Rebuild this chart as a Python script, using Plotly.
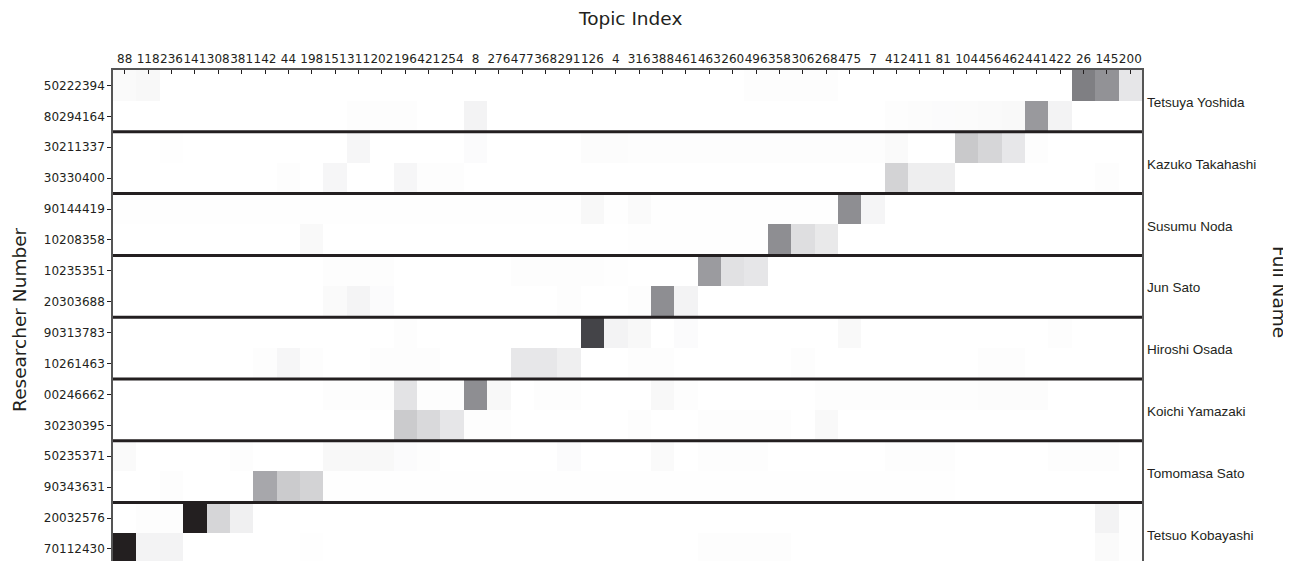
import plotly.graph_objects as go

topics = ["88", "118", "236", "141", "308", "381", "142", "44", "198", "151", "311",
          "202", "196", "421", "254", "8", "276", "477", "368", "291", "126", "4",
          "316", "388", "461", "463", "260", "496", "358", "306", "268", "475", "7",
          "412", "411", "81", "104", "456", "462", "441", "422", "26", "145", "200"]

researchers = ["50222394", "80294164", "30211337", "30330400", "90144419", "10208358",
               "10235351", "20303688", "90313783", "10261463", "00246662", "30230395",
               "50235371", "90343631", "20032576", "70112430"]

full_names = ["Tetsuya Yoshida", "Kazuko Takahashi", "Susumu Noda", "Jun Sato",
              "Hiroshi Osada", "Koichi Yamazaki", "Tomomasa Sato", "Tetsuo Kobayashi"]

#            88   118  236  141  308  381  142  44   198  151  311  202  196  421  254  8    276  477  368  291  126  4    316  388  461  463  260  496  358  306  268  475  7    412  411  81   104  456  462  441  422  26   145  200
r_50222394 = [.02, .03, 0,   0,   0,   0,   0,   0,   0,   0,   0,   0,   0,   0,   0,   0,   0,   0,   0,   0,   0,   0,   0,   0,   0,   0,   0,   .01, .01, .008,.008,0,   0,   0,   0,   0,   0,   0,   0,   0,   0,   .56, .48, .10]
r_80294164 = [0,   0,   0,   0,   0,   0,   0,   0,   0,   0,   .01, .01, .01, 0,   0,   .05, 0,   0,   0,   0,   0,   0,   0,   0,   0,   0,   0,   0,   0,   0,   0,   0,   0,   .01, .012,.015,.018,.02, .025,.45, .05, 0,   0,   0]
r_30211337 = [0,   0,   .005,0,   0,   0,   0,   0,   0,   0,   .035,0,   0,   0,   0,   .015,0,   0,   0,   0,   .012,.012,.008,.008,.008,.008,.008,.008,.008,.008,.008,.008,.008,.02, 0,   0,   .21, .16, .095,.01, 0,   0,   0,   0]
r_30330400 = [0,   0,   0,   0,   0,   0,   0,   .01, 0,   .035,0,   0,   .035,.01, .01, 0,   0,   0,   0,   0,   0,   0,   0,   0,   0,   0,   0,   0,   0,   0,   0,   0,   0,   .17, .07, .07, 0,   0,   0,   0,   0,   0,   .01, 0]
r_90144419 = [.005,.005,.005,.005,.005,.005,.005,.005,.005,.005,.005,.005,.005,.005,.005,.005,.005,.005,.005,.005,.03, .005,.02, .005,.005,.005,.005,.005,.005,.005,.005,.50, .04, 0,   0,   0,   0,   0,   0,   0,   0,   0,   0,   0]
r_10208358 = [0,   0,   0,   0,   0,   0,   0,   0,   .025,0,   0,   0,   0,   0,   0,   0,   0,   0,   0,   0,   0,   0,   .005,.005,.005,.005,.005,.005,.50, .13, .09, 0,   0,   0,   0,   0,   0,   0,   0,   0,   0,   0,   0,   0]
r_10235351 = [0,   0,   0,   0,   0,   0,   0,   0,   0,   .01, .01, .01, 0,   0,   0,   0,   0,   .008,.008,.008,.008,.005,0,   0,   0,   .44, .12, .10, 0,   0,   0,   0,   0,   0,   0,   0,   0,   0,   0,   0,   0,   0,   0,   0]
r_20303688 = [0,   0,   0,   0,   0,   0,   0,   0,   0,   .02, .045,.015,0,   0,   0,   0,   0,   0,   0,   .01, 0,   0,   .01, .50, .05, 0,   0,   0,   0,   0,   0,   0,   0,   0,   0,   0,   0,   0,   0,   0,   0,   0,   0,   0]
r_90313783 = [0,   0,   0,   0,   0,   0,   0,   0,   0,   0,   0,   0,   .01, 0,   0,   0,   0,   0,   0,   0,   .80, .05, .03, 0,   .015,0,   0,   0,   0,   0,   0,   .025,0,   0,   0,   0,   0,   0,   0,   0,   .01, 0,   0,   0]
r_10261463 = [0,   0,   0,   0,   0,   0,   .01, .035,.01, 0,   0,   .01, .01, .01, 0,   0,   0,   .095,.095,.065,0,   0,   .01, .01, 0,   0,   0,   0,   0,   .008,0,   0,   0,   0,   0,   0,   0,   .01, .01, 0,   0,   0,   0,   0]
r_00246662 = [0,   0,   0,   0,   0,   0,   0,   0,   0,   .01, .01, .01, .11, .01, .01, .50, .03, 0,   .01, .01, 0,   0,   0,   .03, .01, 0,   0,   0,   0,   0,   .008,.008,.008,.008,.008,.008,.008,.012,.012,.012,0,   0,   0,   0]
r_30230395 = [0,   0,   0,   0,   0,   0,   0,   0,   0,   0,   0,   0,   .20, .15, .10, .01, .01, 0,   0,   0,   0,   0,   .01, 0,   0,   .01, .01, .01, .01, 0,   .025,0,   0,   0,   0,   0,   0,   0,   0,   0,   0,   0,   0,   0]
r_50235371 = [.02, 0,   0,   0,   0,   .01, 0,   0,   0,   .03, .03, .03, .015,.01, 0,   0,   0,   0,   0,   .015,0,   0,   0,   .02, 0,   .01, .01, .01, 0,   0,   0,   0,   0,   .01, .01, .01, 0,   0,   0,   0,   .01, .01, .01, 0]
r_90343631 = [0,   0,   .01, 0,   0,   0,   .38, .20, .17, .005,.005,.005,.005,.005,.005,.005,.005,.005,.005,.005,.005,.005,.005,.005,.005,.005,.005,.005,.005,.005,.005,.005,.005,.005,.005,.005,0,   0,   0,   0,   0,   0,   0,   0]
r_20032576 = [0,   .01, .01, 1.0, .16, .06, 0,   0,   0,   0,   0,   0,   0,   0,   0,   0,   0,   0,   0,   0,   0,   0,   0,   0,   0,   0,   0,   0,   0,   0,   0,   0,   0,   0,   0,   0,   0,   0,   0,   0,   0,   0,   .05, .005]
r_70112430 = [1.0, .05, .05, 0,   0,   0,   0,   0,   .005,0,   0,   0,   0,   0,   0,   0,   0,   0,   0,   0,   0,   0,   0,   0,   0,   .01, .01, .01, .01, 0,   0,   0,   0,   0,   0,   0,   0,   0,   0,   0,   0,   0,   .02, .005]

z = [r_50222394, r_80294164, r_30211337, r_30330400, r_90144419, r_10208358,
     r_10235351, r_20303688, r_90313783, r_10261463, r_00246662, r_30230395,
     r_50235371, r_90343631, r_20032576, r_70112430]

colorscale = [[0.0, "#ffffff"], [0.1, "#e6e6e8"], [0.2, "#cbcbcd"], [0.4, "#a3a3a7"],
              [0.5, "#8e8e92"], [0.8, "#444448"], [1.0, "#231f20"]]

xs = list(range(len(topics)))
ys = list(range(len(researchers)))

fig = go.Figure(go.Heatmap(z=z, x=xs, y=ys, colorscale=colorscale, zmin=0, zmax=1,
                           showscale=False, hoverinfo="skip"))

# group separators
for g in range(1, len(full_names)):
    yb = 2 * g - 0.5
    fig.add_shape(type="line", xref="x", yref="y", x0=-0.5, x1=len(topics) - 0.5,
                  y0=yb, y1=yb, line=dict(color="#231f20", width=3), layer="above")

# full names on the right
for g, name in enumerate(full_names):
    fig.add_annotation(text=name, xref="paper", yref="y", x=1.003, y=2 * g + 0.55,
                       xanchor="left", yanchor="middle", showarrow=False,
                       font=dict(family="Liberation Sans, Arial", size=13.5, color="#231f20"))

title_font = dict(family="DejaVu Sans", size=18.5, color="#231f20")
fig.add_annotation(text="Topic Index", xref="paper", yref="paper", x=0.502, y=1.104,
                   showarrow=False, xanchor="center", yanchor="middle", font=title_font)
fig.add_annotation(text="Researcher Number", xref="paper", yref="paper", x=-0.0904, y=0.491,
                   textangle=-90, showarrow=False, xanchor="center", yanchor="middle",
                   font=title_font)
fig.add_annotation(text="Full Name", xref="paper", yref="paper", x=1.133, y=0.548,
                   textangle=90, showarrow=False, xanchor="center", yanchor="middle",
                   font=title_font)

# the page body adds an 8px offset, so margins are shifted by 8px to compensate
fig.update_layout(
    width=1291, height=561,
    margin=dict(l=105, r=157, t=62, b=8, autoexpand=False),
    plot_bgcolor="white", paper_bgcolor="white",
    font=dict(family="DejaVu Sans", size=12, color="#231f20"),
    xaxis=dict(side="top", tickmode="array", tickvals=xs, ticktext=topics,
               range=[-0.5, len(topics) - 0.5], ticks="inside", ticklen=4,
               tickcolor="#231f20", showgrid=False, zeroline=False,
               showline=True, mirror=True, linecolor="#555555", linewidth=1.5,
               tickangle=0, tickfont=dict(size=12), automargin=False),
    yaxis=dict(tickmode="array", tickvals=ys, ticktext=researchers,
               range=[15.39, -0.5], ticks="outside", ticklen=4,
               tickcolor="#231f20", showgrid=False, zeroline=False,
               showline=True, mirror=True, linecolor="#555555", linewidth=1.5,
               tickfont=dict(size=12), automargin=False),
)

fig.write_html("out.html")
